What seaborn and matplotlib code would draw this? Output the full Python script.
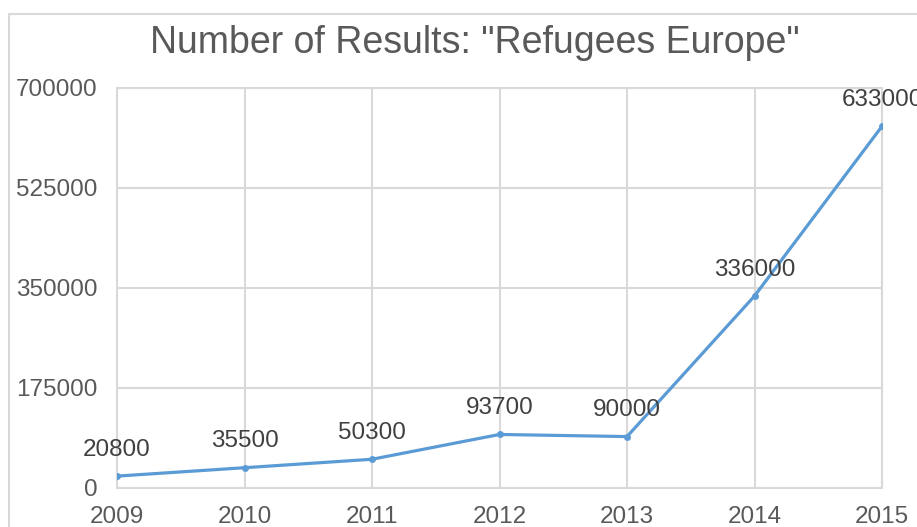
import pandas as pd
import matplotlib.pyplot as plt
import seaborn as sns
from matplotlib.patches import Rectangle

# data
years = [2009, 2010, 2011, 2012, 2013, 2014, 2015]
results = [20800, 35500, 50300, 93700, 90000, 336000, 633000]
y_ticks = [0, 175000, 350000, 525000, 700000]

df = pd.DataFrame({"year": years, "results": results})

sns.set_style("white")
plt.rcParams["font.family"] = ["Liberation Sans", "DejaVu Sans"]

fig = plt.figure(figsize=(9.17, 5.27), dpi=100)
ax = fig.add_axes([117 / 917, 1 - 488 / 527, 765 / 917, 400 / 527])

# outer chart border (runs off the right and bottom edges)
fig.patches.append(Rectangle((9 / 917, -0.1), 1.2, 1 - 14 / 527 + 0.1,
                             transform=fig.transFigure, fill=False,
                             edgecolor="#D9D9D9", linewidth=1.5, zorder=0))

sns.lineplot(data=df, x="year", y="results", color="#5B9BD5", linewidth=2.3,
             marker="o", markersize=5, markeredgewidth=0, ax=ax, zorder=3)

for x, y in zip(years, results):
    ax.annotate(str(y), (x, y), xytext=(0, 11), textcoords="offset points",
                ha="center", va="bottom", fontsize=17.5, color="#404040",
                zorder=4, annotation_clip=False)

ax.set_xlim(years[0], years[-1])
ax.set_ylim(0, 700000)
ax.set_xticks(years)
ax.set_yticks(y_ticks)
ax.set_xlabel("")
ax.set_ylabel("")
ax.grid(True, color="#D9D9D9", linewidth=1.5)
for s in ax.spines.values():
    s.set_color("#D9D9D9")
    s.set_linewidth(1.5)
ax.tick_params(axis="both", length=0, labelsize=17.5, labelcolor="#595959")
ax.tick_params(axis="y", pad=14)
ax.tick_params(axis="x", pad=13)

fig.text(475 / 917, 1 - 43 / 527, 'Number of Results: "Refugees Europe"',
         ha="center", va="center", fontsize=27, color="#595959")

fig.savefig("out.png", dpi=100)
